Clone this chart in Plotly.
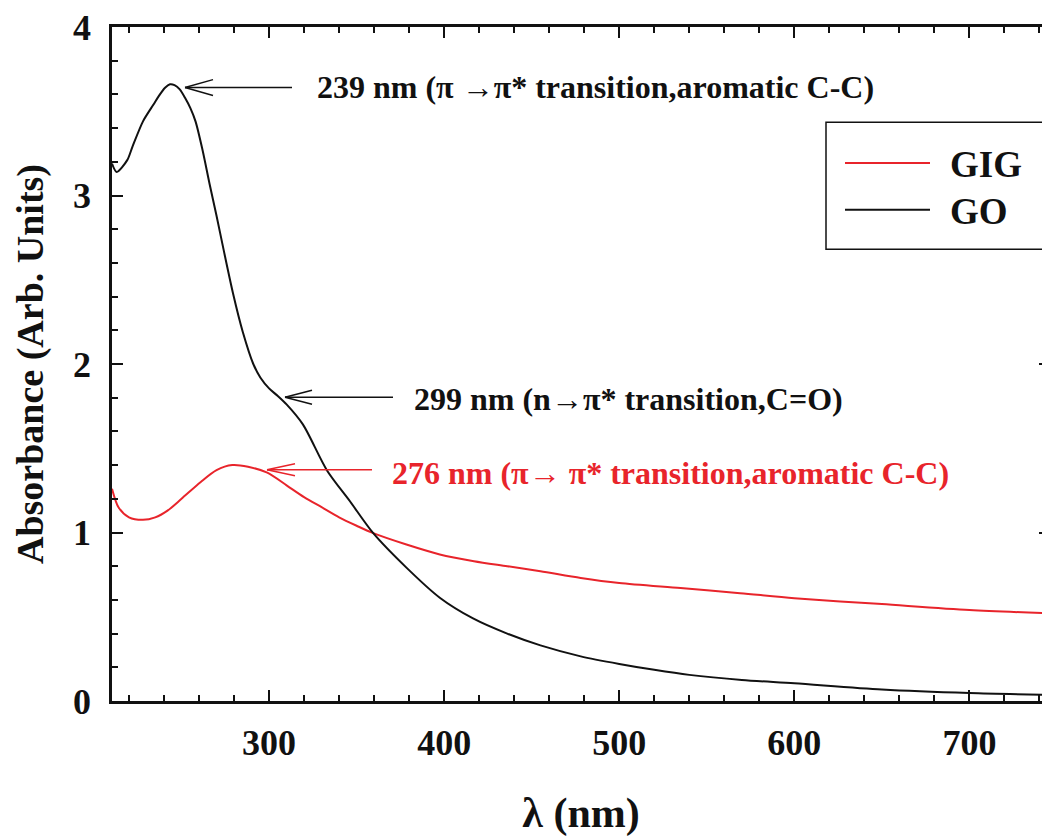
import plotly.graph_objects as go

# ---------------- data ----------------
go_wl = [210.3, 213, 219, 222, 228, 234, 237, 240.6, 243.4, 246, 249, 252, 255, 258, 262, 266,
         270, 274, 279.4, 285, 291, 295, 300, 305, 310, 319.4, 333, 346.3, 359.5,
         378.6, 397.5, 416.5, 436, 455, 478, 500, 520, 540, 570, 600, 650, 700, 746]
go_abs = [3.19, 3.14, 3.21, 3.29, 3.44, 3.54, 3.59, 3.64, 3.66, 3.655, 3.63, 3.58, 3.52, 3.44, 3.27, 3.07,
          2.88, 2.68, 2.42, 2.19, 2.00, 1.92, 1.855, 1.81, 1.76, 1.64, 1.37, 1.184, 0.996,
          0.79, 0.613, 0.49, 0.40, 0.33, 0.265, 0.22, 0.185, 0.155, 0.125, 0.105, 0.068, 0.047, 0.036]

gig_wl = [210.3, 214, 220, 228, 235, 242, 250, 261, 270, 279, 288, 299, 310, 320,
          330, 340, 350, 359.5, 378, 397.5, 417, 436, 455, 478, 500, 535, 569, 600, 650, 700, 746]
gig_abs = [1.26, 1.15, 1.09, 1.075, 1.09, 1.13, 1.20, 1.30, 1.37, 1.40, 1.39, 1.355, 1.28, 1.21,
           1.15, 1.09, 1.04, 0.996, 0.93, 0.87, 0.83, 0.80, 0.77, 0.73, 0.70, 0.67, 0.64, 0.61, 0.575, 0.54, 0.52]

series_names = ["GIG", "GO"]
series_colors = ["#e8242b", "#111111"]

x_ticks = [300, 400, 500, 600, 700]
y_ticks = [0, 1, 2, 3, 4]

ann_texts = ["239 nm (π →π* transition,aromatic C-C)",
             "299 nm (n→π* transition,C=O)",
             "276 nm (π→ π* transition,aromatic C-C)"]
ann_colors = ["#111111", "#111111", "#e8242b"]

# ---------------- geometry helpers (reference-image pixels) ----------------
OFF = 8                      # page body margin
W, H = 1050 - OFF, 837 - OFF
L, R, T, B = 112, 1050, 22, 701   # plot frame in page pixels
XR = [210.3, 746.0]
YR = [0, 4]


def pxx(px):
    return XR[0] + (px - L) * (XR[1] - XR[0]) / (R - L)


def pxy(py):
    return YR[0] + (B - py) * (YR[1] - YR[0]) / (B - T)


def paperx(px):
    return (px - L) / (R - L)


def papery(py):
    return (B - py) / (B - T)


FONT = "Liberation Serif, Times New Roman, serif"
INK = "#111111"

fig = go.Figure()
fig.add_trace(go.Scatter(x=gig_wl, y=gig_abs, mode="lines", name=series_names[0],
                         line=dict(color=series_colors[0], width=2, shape="spline", smoothing=0.8),
                         showlegend=False))
fig.add_trace(go.Scatter(x=go_wl, y=go_abs, mode="lines", name=series_names[1],
                         line=dict(color=series_colors[1], width=2, shape="spline", smoothing=0.8),
                         showlegend=False))
fig.add_trace(go.Scatter(x=[], y=[], xaxis="x2", yaxis="y2", showlegend=False, hoverinfo="skip"))

shapes = []
annotations = []

# arrows with open V heads: (tip_px, tip_py, tail_px, head_len, head_half, colour index)
arrows = [(185, 83, 292, 28, 8, 0), (285, 395, 393, 27, 7, 1), (267, 468, 372, 28, 6, 2)]
text_pos = [(315, 82), (412, 397), (390, 471)]
for (tx, ty, tl, hl, hh, ci), (ax_, ay_), txt in zip(arrows, text_pos, ann_texts):
    col = ann_colors[ci]
    shapes.append(dict(type="line", xref="x", yref="y", x0=pxx(tx), y0=pxy(ty), x1=pxx(tl), y1=pxy(ty),
                       line=dict(color=col, width=1.5)))
    for s in (-1, 1):
        shapes.append(dict(type="line", xref="x", yref="y", x0=pxx(tx), y0=pxy(ty),
                           x1=pxx(tx + hl), y1=pxy(ty + s * hh), line=dict(color=col, width=1.5)))
    annotations.append(dict(text=txt, x=pxx(ax_), y=pxy(ay_), xref="x", yref="y",
                            xanchor="left", yanchor="middle", showarrow=False,
                            font=dict(family=FONT, size=32, color=col, weight="bold")))

# legend box
shapes.append(dict(type="rect", xref="paper", yref="paper", x0=paperx(826), x1=paperx(1046),
                   y0=papery(246), y1=papery(118), line=dict(color=INK, width=1.5),
                   fillcolor="white", layer="above"))
for name, col, ly in zip(series_names, series_colors, [159, 206]):
    shapes.append(dict(type="line", xref="paper", yref="paper", x0=paperx(845), x1=paperx(930),
                       y0=papery(ly), y1=papery(ly), line=dict(color=col, width=2), layer="above"))
    annotations.append(dict(text=name, x=paperx(948), y=papery(ly + 2), xref="paper", yref="paper",
                            xanchor="left", yanchor="middle", showarrow=False,
                            font=dict(family=FONT, size=37, color=INK, weight="bold")))

axis_font = dict(family=FONT, size=36, color=INK, weight="bold")
minor_x = dict(dtick=20, tick0=0, ticks="inside", ticklen=6, tickwidth=1.5, tickcolor=INK, showgrid=False)

fig.update_layout(
    width=W, height=H,
    margin=dict(l=L - OFF, r=W - (R - OFF), t=T - OFF, b=H - (B - OFF)),
    paper_bgcolor="white", plot_bgcolor="white",
    shapes=shapes, annotations=annotations,
    xaxis=dict(range=XR, tickvals=x_ticks, ticks="inside", ticklen=11, tickwidth=2,
               tickcolor=INK, showline=True, linecolor=INK, linewidth=2.5,
               mirror=False, showgrid=False, zeroline=False, tickfont=axis_font,
               ticklabelstandoff=8, ticklabeloverflow="allow", minor=minor_x,
               title=dict(text="λ (nm)", font=dict(family=FONT, size=42, color=INK, weight="bold"),
                          standoff=36)),
    xaxis2=dict(range=XR, overlaying="x", side="top", anchor="y", tickvals=x_ticks, ticks="inside",
                ticklen=11, tickwidth=2, tickcolor=INK, showline=True, linecolor=INK, linewidth=2.5,
                showticklabels=False, showgrid=False, zeroline=False, minor=minor_x),
    yaxis=dict(range=YR, tickvals=y_ticks, ticks="inside", ticklen=11, tickwidth=2,
               tickcolor=INK, showline=True, linecolor=INK, linewidth=2.5,
               mirror=False, showgrid=False, zeroline=False, tickfont=axis_font,
               ticklabelstandoff=11, ticklabeloverflow="allow",
               minor=dict(dtick=0.2, tick0=0, ticks="inside", ticklen=6, tickwidth=1.5,
                          tickcolor=INK, showgrid=False),
               title=dict(text="Absorbance (Arb. Units)",
                          font=dict(family=FONT, size=38, color=INK, weight="bold"),
                          standoff=18)),
    yaxis2=dict(range=YR, overlaying="y", side="right", anchor="x", tickvals=y_ticks, ticks="inside",
                ticklen=11, tickwidth=2, tickcolor=INK, showticklabels=False,
                showline=False, showgrid=False, zeroline=False),
)

fig.write_html("out.html")
